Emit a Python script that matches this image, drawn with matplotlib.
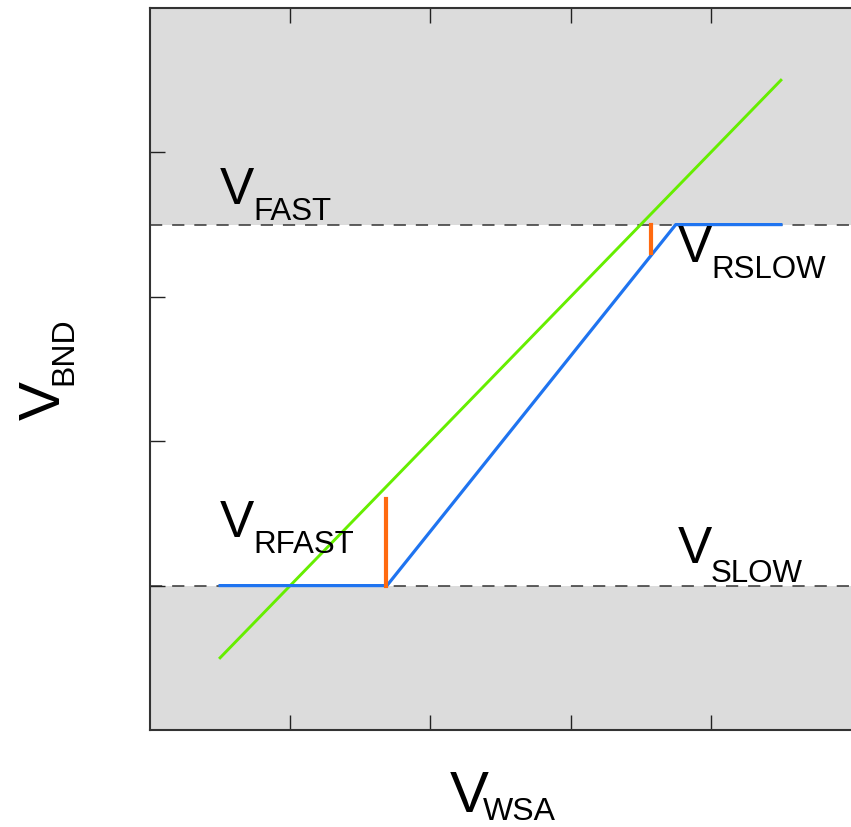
import matplotlib
matplotlib.use('Agg')
import matplotlib.pyplot as plt

plt.rcParams['font.family'] = ['Liberation Sans', 'DejaVu Sans']

# threshold levels
v_slow = 1.0
v_fast = 3.5

# green: bandwidth follows wsa directly
wsa_green = [0.5, 4.5]
bnd_green = [0.5, 4.5]

# blue: clamped ramp
wsa_blue = [0.5, 1.69, 3.75, 4.5]
bnd_blue = [1.0, 1.0, 3.5, 3.5]

# orange offsets (x, y_low, y_high)
rfast = [1.68, 1.0, 1.6]
rslow = [3.57, 3.3, 3.5]

fig = plt.figure(figsize=(8.51, 8.27), dpi=100)
ax = fig.add_axes([150/851, 1 - 730/827, 701/851, 722/827])
ax.set_xlim(0, 5)
ax.set_ylim(0, 5)

ax.axhspan(v_fast, 5, color='#dcdcdc', lw=0, zorder=0)
ax.axhspan(0, v_slow, color='#dcdcdc', lw=0, zorder=0)
for lvl in (v_slow, v_fast):
    ax.axhline(lvl, color='#333333', lw=1.1, linestyle=(0, (8, 6.5)), zorder=1)

ax.plot(wsa_green, bnd_green, color='#66ee00', lw=2.1, zorder=3)
ax.plot(wsa_blue, bnd_blue, color='#1f74f0', lw=2.3, zorder=3)
ax.plot([rfast[0], rfast[0]], rfast[1:], color='#ff6a10', lw=3, zorder=4)
ax.plot([rslow[0], rslow[0]], rslow[1:], color='#ff6a10', lw=3, zorder=4)

ax.set_xticks([1, 2, 3, 4])
ax.set_yticks([1, 2, 3, 4])
ax.set_xticklabels([])
ax.set_yticklabels([])
ax.tick_params(direction='in', length=11, width=1, color='#222222', top=True)
ax.spines['right'].set_visible(False)
for s in ('left', 'top', 'bottom'):
    ax.spines[s].set_linewidth(1.5)
    ax.spines[s].set_color('#333333')


def label(x, y, xs, ys, sub, big=37, small=22.5):
    ax.text(x, y, 'V', fontsize=big, ha='left', va='baseline', zorder=5)
    ax.text(xs, ys, sub, fontsize=small, ha='left', va='baseline', zorder=5)


label(0.5, 3.643, 0.735, 3.532, 'FAST')
label(3.766, 3.241, 4.001, 3.130, 'RSLOW')
label(0.5, 1.337, 0.735, 1.226, 'RFAST')
label(3.766, 1.157, 4.001, 1.025, 'SLOW')

# axis labels
fig.text(450/851, 1 - 812/827, 'V', fontsize=42, ha='left', va='baseline')
fig.text(483/851, 1 - 820/827, 'WSA', fontsize=23, ha='left', va='baseline')
fig.text(60/851, 1 - 420/827, 'V', fontsize=42, ha='left', va='baseline',
         rotation=90, rotation_mode='anchor')
fig.text(72/851, 1 - 385/827, 'BND', fontsize=23, ha='left', va='baseline',
         rotation=90, rotation_mode='anchor')

fig.savefig('out.png', dpi=100)
